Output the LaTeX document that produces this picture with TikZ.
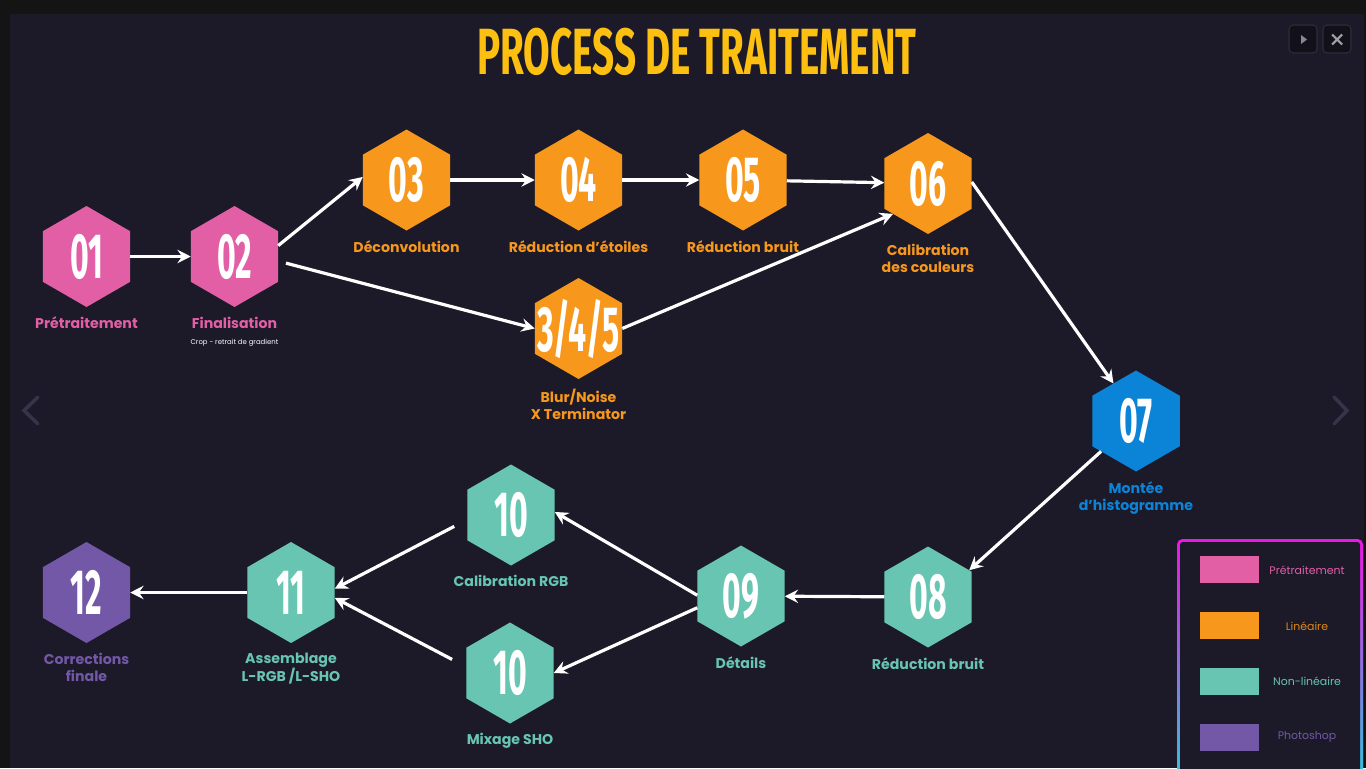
\documentclass[tikz,border=0pt]{standalone}
\usepackage{fontspec}
\setmainfont{Poppins}
\newfontfamily\condfont[FakeStretch=0.5]{Fira Sans}
\newfontfamily\titlefont[FakeStretch=0.59]{Fira Sans}
\usepackage{tikz}
\usetikzlibrary{shapes.geometric, arrows.meta, positioning}
\definecolor{nOut}{HTML}{141414}
\definecolor{nBg}{HTML}{1C1A29}
\definecolor{nYellow}{HTML}{FDC010}
\definecolor{nPink}{HTML}{E25FA6}
\definecolor{nOrange}{HTML}{F7981D}
\definecolor{nTeal}{HTML}{67C5B1}
\definecolor{nBlue}{HTML}{0B84D8}
\definecolor{nPurple}{HTML}{7358A7}
\definecolor{nMag}{HTML}{F014E6}
\definecolor{nLav}{HTML}{B25BE4}
\definecolor{nCyan}{HTML}{22D3DA}
\definecolor{nBtn}{HTML}{121119}
\definecolor{nBtnD}{HTML}{2E2C38}
\definecolor{nGrey}{HTML}{8A8894}
\definecolor{nChev}{HTML}{36344A}
\tikzstyle{hex}    = [regular polygon, regular polygon sides=6, shape border rotate=30,
minimum size=75.75pt, inner sep=0pt, outer sep=0pt]
\tikzstyle{hexP}   = [hex, fill=nPink]
\tikzstyle{hexO}   = [hex, fill=nOrange]
\tikzstyle{hexT}   = [hex, fill=nTeal]
\tikzstyle{hexB}   = [hex, fill=nBlue]
\tikzstyle{hexV}   = [hex, fill=nPurple]
\tikzstyle{num}    = [text=white, inner sep=0pt, font=\condfont\bfseries\fontsize{48}{48}\selectfont]
\tikzstyle{lbl}    = [inner sep=0pt, align=center, below=7pt, font=\bfseries\fontsize{10.6}{12.75}\selectfont]
\tikzstyle{sub}    = [inner sep=0pt, text=white, font=\fontsize{5.2}{6}\selectfont]
\tikzstyle{swatch} = [rectangle, minimum width=44.25pt, minimum height=20.25pt, inner sep=0pt]
\tikzstyle{lgtxt}  = [inner sep=0pt, font=\fontsize{8.2}{9}\selectfont]
\tikzstyle{arrow}  = [-{Stealth[length=10pt, width=10pt, inset=3.5pt]}, line width=2.4pt, draw=white]

\begin{document}
\begin{tikzpicture}[x=0.75pt, y=-0.75pt, thick]
      \useasboundingbox (0,0) rectangle (1366,768);
      \fill[nOut] (0,0) rectangle (1366,768);
      \fill[nBg]  (10,14) rectangle (1364,768);

      \node(Tit)  [text=nYellow, font=\titlefont\bfseries\fontsize{49}{49}\selectfont] at (697,52) {PROCESS DE TRAITEMENT};

      \node(Pre)  [hexP] at (86.5,256.5) {};
      \node(Fin)  [hexP] at (234.5,256.5) {};
      \node(Dec)  [hexO] at (406.5,180) {};
      \node(Eto)  [hexO] at (578.5,180) {};
      \node(Bru)  [hexO] at (743,180) {};
      \node(Cal)  [hexO] at (928,183.5) {};
      \node(Blur) [hexO] at (578.5,328.5) {};
      \node(Mon)  [hexB] at (1136,421) {};
      \node(BruN) [hexT] at (928,597) {};
      \node(Det)  [hexT] at (741,596) {};
      \node(Rgb)  [hexT] at (511,515) {};
      \node(Sho)  [hexT] at (510,673) {};
      \node(Ass)  [hexT] at (291,592.5) {};
      \node(Cor)  [hexV] at (86.5,592.5) {};

      \node(PreN)  [num] at (Pre)  {01};
      \node(FinN)  [num] at (Fin)  {02};
      \node(DecN)  [num] at (Dec)  {03};
      \node(EtoN)  [num] at (Eto)  {04};
      \node(BruNN) [num] at (Bru)  {05};
      \node(CalN)  [num] at (Cal)  {06};
      \node(BlurN) [num] at (Blur) {3/4/5};
      \node(MonN)  [num] at (Mon)  {07};
      \node(BrNN)  [num] at (BruN) {08};
      \node(DetN)  [num] at (Det)  {09};
      \node(RgbN)  [num] at (Rgb)  {10};
      \node(ShoN)  [num] at (Sho)  {10};
      \node(AssN)  [num] at (Ass)  {11};
      \node(CorN)  [num] at (Cor)  {12};

      \node(PreL)  [lbl, text=nPink,   below=7pt of Pre]  {Prétraitement};
      \node(FinL)  [lbl, text=nPink,   below=7pt of Fin]  {Finalisation};
      \node(FinS)  [sub, below=7.5pt of FinL] {Crop - retrait de gradient};
      \node(DecL)  [lbl, text=nOrange, below=7pt of Dec]  {Déconvolution};
      \node(EtoL)  [lbl, text=nOrange, below=7pt of Eto]  {Réduction d’étoiles};
      \node(BruL)  [lbl, text=nOrange, below=7pt of Bru]  {Réduction bruit};
      \node(CalL)  [lbl, text=nOrange, below=7pt of Cal]  {Calibration\\des couleurs};
      \node(BlurL) [lbl, text=nOrange, below=7pt of Blur] {Blur/Noise\\X Terminator};
      \node(MonL)  [lbl, text=nBlue,   below=7pt of Mon]  {Montée\\d’histogramme};
      \node(BrNL)  [lbl, text=nTeal,   below=7pt of BruN] {Réduction bruit};
      \node(DetL)  [lbl, text=nTeal,   below=7pt of Det]  {Détails};
      \node(RgbL)  [lbl, text=nTeal,   below=7pt of Rgb]  {Calibration RGB};
      \node(ShoL)  [lbl, text=nTeal,   below=7pt of Sho]  {Mixage SHO};
      \node(AssL)  [lbl, text=nTeal,   below=7pt of Ass]  {Assemblage\\L-RGB /L-SHO};
      \node(CorL)  [lbl, text=nPurple, below=7pt of Cor]  {Corrections\\finale};

      \draw [arrow] (Pre)       -- (Fin);
      \draw [arrow] (Fin.14)    -- (Dec.176);
      \draw [arrow, shorten <=6pt] (Fin.-6) -- (Blur.180);
      \draw [arrow] (Dec)       -- (Eto);
      \draw [arrow] (Eto)       -- (Bru);
      \draw [arrow] (Bru)       -- (Cal);
      \draw [arrow] (Blur.0)    -- (Cal.221);
      \draw [arrow] (Cal.2)     -- (Mon.121);
      \draw [arrow] (Mon.221)   -- (BruN.33);
      \draw [arrow] (BruN)      -- (Det);
      \draw [arrow] (Det.179)   -- (Rgb.4);
      \draw [arrow] (Det.195)   -- (Sho.0);
      \draw [arrow, shorten <=11pt] (Rgb.186) -- (Ass.5);
      \draw [arrow, shorten <=12pt] (Sho.172) -- (Ass.-7);
      \draw [arrow] (Ass)       -- (Cor);

      \shade[top color=nMag, middle color=nLav, bottom color=nCyan, rounded corners=4pt]
            (1177,539) rectangle (1363,800);
      \fill[nBg, rounded corners=2pt] (1180,542) rectangle (1360,800);
      \node(LgP)  [swatch, fill=nPink]   at (1229.5,569.5) {};
      \node(LgO)  [swatch, fill=nOrange] at (1229.5,625.5) {};
      \node(LgT)  [swatch, fill=nTeal]   at (1229.5,681)   {};
      \node(LgV)  [swatch, fill=nPurple] at (1229.5,737)   {};
      \node(LgPT) [lgtxt, text=nPink]   at (1307,570) {Prétraitement};
      \node(LgOT) [lgtxt, text=nOrange!90!black] at (1307,626) {Linéaire};
      \node(LgTT) [lgtxt, text=nTeal]   at (1307,681) {Non-linéaire};
      \node(LgVT) [lgtxt, text=nPurple] at (1307,737) {Photoshop};

      \draw[nBtnD, fill=nBtn, rounded corners=3pt, line width=0.8pt] (1289,25) rectangle (1317,53);
      \fill[nGrey] (1301,35) -- (1307,39.5) -- (1301,44) -- cycle;
      \draw[nBtnD, fill=nBtn, rounded corners=3pt, line width=0.8pt] (1323,25) rectangle (1351,53);
      \draw[nGrey!80!white, line width=1.6pt] (1332,34.5) -- (1342,44.5) (1342,34.5) -- (1332,44.5);

      \draw[nChev, line width=2.6pt, line cap=round] (38,397) -- (24,410.5) -- (38,424);
      \draw[nChev, line width=2.6pt, line cap=round] (1334,397) -- (1347,410.5) -- (1334,424);
    \end{tikzpicture}
\end{document}
